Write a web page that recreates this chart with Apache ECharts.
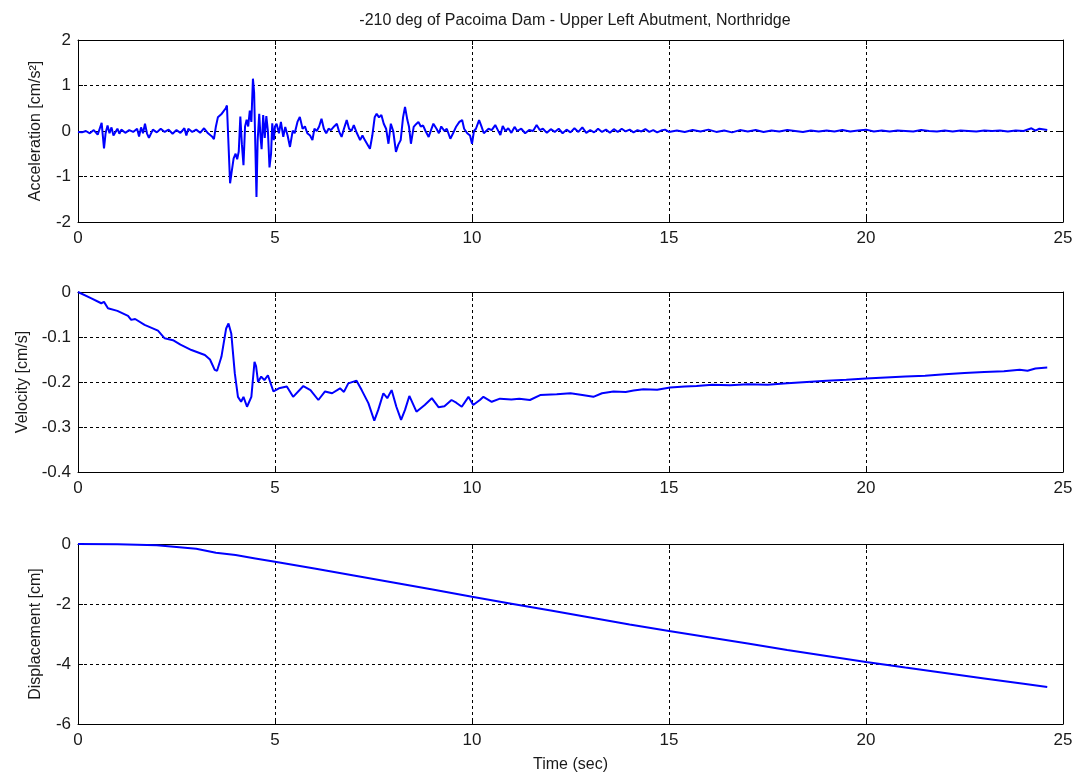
<!DOCTYPE html>
<html>
<head>
<meta charset="utf-8">
<script src="https://cdn.jsdelivr.net/npm/echarts@6/dist/echarts.min.js"></script>
<style>
html,body{margin:0;padding:0;background:#fff;}
#chart{width:1081px;height:776px;}
</style>
</head>
<body>
<div id="chart"></div>
<script>
// ---------- DATA ----------
const titleText = '-210 deg of Pacoima Dam - Upper Left Abutment, Northridge';
const xTicks = [0, 5, 10, 15, 20, 25];
const accTicks = [2, 1, 0, -1, -2];
const velTicks = [0, -0.1, -0.2, -0.3, -0.4];
const dispTicks = [0, -2, -4, -6];

const accT = [0,0.1,0.2,0.3,0.4,0.5,0.55,0.6,0.63,0.66,0.7,0.75,0.8,0.85,0.9,1.0,1.05,1.1,1.2,1.3,1.4,1.5,1.55,1.6,1.65,1.7,1.75,1.8,1.9,2.0,
  2.1,2.2,2.3,2.4,2.5,2.6,2.7,2.75,2.8,2.9,3.0,3.1,3.2,3.3,3.4,3.45,3.5,3.55,3.6,3.65,3.7,3.75,3.78,3.82,3.86,3.9,3.95,4.0,4.04,4.08,
  4.12,4.16,4.2,4.24,4.28,4.32,4.36,4.4,4.44,4.47,4.5,4.53,4.56,4.6,4.63,4.66,4.7,4.74,4.78,4.82,4.86,4.9,4.93,4.97,5.0,5.04,5.1,5.15,5.21,5.26,
  5.32,5.38,5.45,5.5,5.57,5.63,5.7,5.76,5.82,5.89,5.95,6.0,6.06,6.12,6.18,6.24,6.3,6.36,6.42,6.5,6.57,6.63,6.69,6.75,6.82,6.88,6.94,7.0,7.08,7.16,
  7.22,7.28,7.35,7.41,7.47,7.53,7.58,7.64,7.7,7.76,7.82,7.88,7.94,8.0,8.07,8.13,8.19,8.25,8.3,8.36,8.4,8.45,8.52,8.58,8.64,8.7,8.76,8.82,8.9,8.96,
  9.02,9.1,9.16,9.22,9.3,9.36,9.45,9.52,9.6,9.68,9.75,9.8,9.88,9.95,10.0,10.05,10.1,10.18,10.24,10.3,10.35,10.42,10.5,10.59,10.65,10.72,10.78,10.85,10.92,11.0,
  11.08,11.15,11.25,11.35,11.45,11.55,11.64,11.72,11.8,11.9,12.0,12.1,12.2,12.3,12.4,12.5,12.6,12.7,12.8,12.9,13.0,13.1,13.2,13.3,13.4,13.5,13.6,13.7,13.8,13.9,
  14.0,14.1,14.2,14.3,14.4,14.5,14.6,14.7,14.8,14.9,15.0,15.2,15.4,15.6,15.8,16.0,16.2,16.4,16.6,16.8,17.0,17.2,17.4,17.6,17.8,18.0,18.2,18.4,18.6,18.8,
  19.0,19.2,19.4,19.6,19.8,20.0,20.2,20.4,20.6,20.8,21.0,21.2,21.4,21.6,21.8,22.0,22.2,22.4,22.6,22.8,23.0,23.2,23.4,23.6,23.8,24.0,24.2,24.3,24.4,24.6];
const accV = [-0.02,-0.03,0.0,-0.05,0.02,-0.08,0.05,0.18,-0.1,-0.38,-0.05,0.12,-0.05,0.08,-0.1,0.05,-0.06,0.03,-0.04,0.02,-0.02,0.05,-0.12,0.08,-0.05,0.16,-0.05,-0.15,0.03,-0.03,
  0.05,-0.02,0.03,-0.06,0.02,-0.04,0.06,-0.1,0.05,-0.02,0.03,-0.04,0.06,-0.05,-0.12,-0.18,0.1,0.3,0.32,0.38,0.42,0.5,0.56,-0.3,-1.15,-0.9,-0.6,-0.5,-0.62,-0.45,
  0.32,-0.3,-0.75,0.1,0.25,0.1,0.45,0.2,1.15,0.85,-0.3,-1.45,-0.2,0.38,-0.1,-0.4,0.35,-0.15,0.33,0.0,-0.8,-0.5,0.17,-0.2,0.1,0.16,-0.05,0.2,-0.13,0.09,
  -0.1,-0.35,0.01,-0.05,0.2,0.31,0.05,0.1,-0.05,-0.1,-0.2,0.05,0.0,0.1,0.27,0.05,-0.05,0.05,0.02,0.1,0.16,-0.02,-0.13,0.05,0.24,0.05,0.0,0.13,-0.05,-0.2,
  -0.1,-0.2,-0.3,-0.39,-0.1,0.3,0.38,0.3,0.35,0.16,0.05,-0.28,0.16,0.0,-0.46,-0.3,-0.2,0.3,0.53,0.24,0.1,-0.28,0.09,0.15,0.2,0.1,0.12,0.0,-0.13,0.02,
  0.16,0.05,-0.05,0.1,0.0,0.05,-0.17,-0.05,0.1,0.2,0.24,0.05,-0.05,-0.1,-0.28,0.0,0.05,0.24,0.1,-0.05,-0.09,0.05,0.02,0.13,0.03,-0.09,0.11,0.0,0.06,-0.04,
  0.09,0.0,0.05,-0.05,0.02,0.0,0.13,0.02,0.05,-0.04,0.04,-0.02,0.05,-0.05,0.03,-0.03,0.06,-0.02,0.08,-0.04,0.02,-0.03,0.05,-0.02,0.03,-0.04,0.04,-0.02,0.05,-0.01,
  0.03,-0.03,0.02,-0.01,0.04,-0.02,0.02,-0.03,0.01,0.03,-0.02,0.01,-0.02,0.02,-0.01,0.03,-0.02,0.01,-0.03,0.02,-0.01,0.02,-0.02,0.01,-0.01,0.02,0.0,-0.02,0.01,-0.01,
  0.01,-0.01,0.02,-0.01,0.01,0.03,-0.01,0.01,-0.01,0.01,0.0,-0.01,0.02,0.0,-0.01,0.01,-0.01,0.01,0.0,-0.01,0.01,0.0,0.01,-0.01,0.01,0.0,0.06,0.01,0.05,0.02];

const velT = [0,0.34,0.59,0.66,0.76,1.0,1.27,1.35,1.45,1.69,2.03,2.2,2.41,2.6,2.88,3.22,3.35,3.47,3.53,3.64,3.76,3.82,3.89,3.98,4.06,4.14,4.2,4.29,4.4,4.48,
  4.52,4.57,4.65,4.73,4.82,4.96,5.1,5.3,5.46,5.72,5.9,6.1,6.27,6.45,6.65,6.75,6.86,7.07,7.2,7.37,7.52,7.62,7.75,7.85,7.96,8.08,8.2,8.3,8.41,8.59,
  8.8,8.98,9.15,9.3,9.48,9.6,9.74,9.91,10.03,10.2,10.29,10.5,10.71,11.0,11.2,11.47,11.73,12.15,12.5,12.8,13.08,13.3,13.59,13.9,14.1,14.35,14.7,15.03,15.4,15.7,
  16.1,16.55,17.0,17.5,18.0,18.5,19.0,19.5,20.0,20.5,21.0,21.5,22.0,22.5,23.0,23.5,23.9,24.1,24.3,24.6];
const velV = [0,-0.014,-0.025,-0.022,-0.036,-0.042,-0.053,-0.062,-0.06,-0.073,-0.086,-0.103,-0.107,-0.117,-0.129,-0.14,-0.15,-0.173,-0.175,-0.144,-0.081,-0.07,-0.092,-0.181,-0.233,-0.244,-0.233,-0.255,-0.233,-0.155,
  -0.165,-0.2,-0.188,-0.196,-0.185,-0.221,-0.214,-0.21,-0.233,-0.209,-0.218,-0.24,-0.221,-0.225,-0.214,-0.222,-0.203,-0.197,-0.218,-0.247,-0.286,-0.262,-0.225,-0.236,-0.218,-0.255,-0.284,-0.262,-0.231,-0.266,
  -0.251,-0.236,-0.256,-0.254,-0.24,-0.246,-0.255,-0.233,-0.251,-0.24,-0.233,-0.244,-0.237,-0.239,-0.237,-0.24,-0.229,-0.227,-0.225,-0.229,-0.233,-0.225,-0.221,-0.222,-0.219,-0.216,-0.217,-0.212,-0.21,-0.209,
  -0.206,-0.207,-0.205,-0.206,-0.203,-0.2,-0.197,-0.195,-0.192,-0.19,-0.188,-0.186,-0.183,-0.18,-0.178,-0.176,-0.173,-0.175,-0.17,-0.168];

const dispT = [0,1,2,3,3.5,4,4.5,5,6,7,8,9,10,11,12,13,14,15,16,17,18,19,20,21,22,23,24,24.6];
const dispV = [0,-0.005,-0.04,-0.16,-0.29,-0.37,-0.48,-0.59,-0.82,-1.05,-1.28,-1.52,-1.76,-1.99,-2.22,-2.45,-2.68,-2.9,-3.11,-3.32,-3.53,-3.73,-3.93,-4.12,-4.3,-4.48,-4.66,-4.77];

// ---------- CHART ----------
const zip = (t, v) => t.map((x, i) => [x, v[i]]);
const FONT = "'Liberation Sans', Arial, sans-serif";
const TXT = '#1a1a1a';

const grids = [
  {left: 78, top: 40, width: 985, height: 182},
  {left: 78, top: 292, width: 985, height: 180},
  {left: 78, top: 544, width: 985, height: 180}
];
const yRanges = [
  {min: -2, max: 2, interval: 1, name: 'Acceleration [cm/s²]'},
  {min: -0.4, max: 0, interval: 0.1, name: 'Velocity [cm/s]'},
  {min: -6, max: 0, interval: 2, name: 'Displacement [cm]'}
];
const fmt = v => {
  const r = Math.round(v * 1000) / 1000;
  return String(r);
};

const xAxis = [], yAxis = [];
grids.forEach((g, i) => {
  xAxis.push({
    type: 'value', gridIndex: i, min: xTicks[0], max: xTicks[xTicks.length - 1], interval: 5,
    position: 'bottom',
    name: i === 2 ? 'Time (sec)' : '', nameLocation: 'middle', nameGap: 33,
    nameTextStyle: {fontFamily: FONT, fontSize: 16, color: TXT},
    axisLine: {show: true, onZero: false, lineStyle: {color: '#000', width: 1}},
    axisTick: {show: true, inside: true, length: 5, lineStyle: {color: '#000'}},
    axisLabel: {fontFamily: FONT, fontSize: 17, color: TXT, margin: 8, formatter: fmt},
    splitLine: {show: true, lineStyle: {color: '#000', type: [3, 3], width: 1}}
  });
  xAxis.push({
    type: 'value', gridIndex: i, min: xTicks[0], max: xTicks[xTicks.length - 1], interval: 5,
    position: 'top',
    axisLine: {show: true, onZero: false, lineStyle: {color: '#000', width: 1}},
    axisTick: {show: true, inside: true, length: 5, lineStyle: {color: '#000'}},
    axisLabel: {show: false}, splitLine: {show: false}
  });
  const r = yRanges[i];
  yAxis.push({
    type: 'value', gridIndex: i, min: r.min, max: r.max, interval: r.interval,
    position: 'left',
    name: r.name, nameLocation: 'middle', nameGap: 34, nameRotate: 90,
    nameTextStyle: {fontFamily: FONT, fontSize: 16, color: TXT},
    axisLine: {show: true, onZero: false, lineStyle: {color: '#000', width: 1}},
    axisTick: {show: true, inside: true, length: 5, lineStyle: {color: '#000'}},
    axisLabel: {fontFamily: FONT, fontSize: 17, color: TXT, margin: 7, formatter: fmt},
    splitLine: {show: true, lineStyle: {color: '#000', type: [3, 3], width: 1}}
  });
  yAxis.push({
    type: 'value', gridIndex: i, min: r.min, max: r.max, interval: r.interval,
    position: 'right',
    axisLine: {show: true, onZero: false, lineStyle: {color: '#000', width: 1}},
    axisTick: {show: true, inside: true, length: 5, lineStyle: {color: '#000'}},
    axisLabel: {show: false}, splitLine: {show: false}
  });
});

const lineSeries = (data, i) => ({
  type: 'line', xAxisIndex: i * 2, yAxisIndex: i * 2, data: data,
  showSymbol: false, symbol: 'none', smooth: false,
  lineStyle: {color: '#0000ff', width: 2},
  z: 5
});

const chart = echarts.init(document.getElementById('chart'), null, {renderer: 'canvas'});
chart.setOption({
  animation: false,
  backgroundColor: '#fff',
  title: {
    text: titleText, left: 570, top: 8, textAlign: 'center',
    textStyle: {fontFamily: FONT, fontSize: 16, fontWeight: 'normal', color: TXT}
  },
  grid: grids,
  xAxis: xAxis,
  yAxis: yAxis,
  series: [
    lineSeries(zip(accT, accV), 0),
    lineSeries(zip(velT, velV), 1),
    lineSeries(zip(dispT, dispV), 2)
  ]
});
</script>
</body>
</html>
